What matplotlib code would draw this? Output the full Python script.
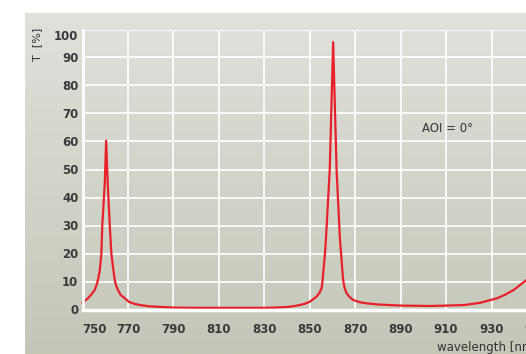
import numpy as np
import matplotlib
matplotlib.use('Agg')
import matplotlib.pyplot as plt

# transmission curve
wavelength = [750, 752.4, 754, 755.4, 756.2, 756.8, 757.6, 758.3, 758.7, 759.8, 760.4,
              761.1, 762.0, 762.7, 763.4, 764.2, 764.8, 765.6, 766.8, 768.6, 770.5,
              773, 776, 780, 785, 790, 800, 810, 820, 830, 835, 840, 843, 845.7,
              848, 850.1, 853.0, 854.3, 855.2, 855.6, 855.9, 856.7, 857.1, 858.8,
              860.3, 861.8, 863.3, 864.0, 864.7, 865.3, 866.2, 867.5, 869.1, 872,
              875, 880, 890, 903, 910, 918, 925, 932.4, 936, 939.8, 945.3, 950]
transmission = [2.4, 4.0, 5.5, 7.0, 8.8, 10.5, 14, 20, 30, 45, 60.3,
                45, 30, 20, 15.3, 10.5, 8.5, 7.0, 5.2, 4.0, 2.7,
                2.0, 1.5, 1.1, 0.9, 0.7, 0.6, 0.6, 0.6, 0.6, 0.7, 0.9, 1.2, 1.6,
                2.1, 2.8, 4.6, 6.0, 7.6, 10, 12.9, 20, 24.8, 50,
                95.5, 50, 24.8, 17.7, 10.5, 7.8, 5.8, 4.5, 3.4, 2.6,
                2.2, 1.8, 1.4, 1.25, 1.4, 1.6, 2.4, 4.0, 5.3, 7.0, 10.5, 14]
x_ticks = [750, 770, 790, 810, 830, 850, 870, 890, 910, 930, 950]
y_ticks = [0, 10, 20, 30, 40, 50, 60, 70, 80, 90, 100]

plt.rcParams['font.family'] = ['Liberation Sans Narrow', 'DejaVu Sans']

W, H = 526, 354
fig = plt.figure(figsize=(W / 100, H / 100), dpi=100)
fig.patch.set_facecolor('white')

# gradient panel behind the chart
bg = fig.add_axes([25 / W, 0, 1 - 25 / W, 1 - 13 / H])
top = np.array([0xe0, 0xe1, 0xdc]) / 255
bot = np.array([0xc3, 0xc7, 0xb7]) / 255
t = np.linspace(0, 1, 256)[:, None]
grad = top * (1 - t) + bot * t
bg.imshow(grad[:, None, :].repeat(2, axis=1), aspect='auto', extent=[0, 1, 0, 1])
bg.set_axis_off()

ax = fig.add_axes([82.5 / W, 44.5 / H, (537 - 82.5) / W, 280 / H])
ax.patch.set_visible(False)
ax.set_xlim(750, 950)
ax.set_ylim(0, 100)
ax.set_xticks(x_ticks)
ax.set_yticks(y_ticks)
ax.grid(True, color='white', linewidth=1.2)
ax.set_axisbelow(True)
for side in ['top', 'right']:
    ax.spines[side].set_visible(False)
ax.spines['left'].set_color('white')
ax.spines['left'].set_linewidth(2)
ax.spines['bottom'].set_color('white')
ax.spines['bottom'].set_linewidth(2.5)
ax.tick_params(length=0, labelsize=8.5, labelcolor='#3a3a3a')
ax.tick_params(axis='x', pad=10)
ax.tick_params(axis='y', pad=3)
for lbl in ax.get_xticklabels() + ax.get_yticklabels():
    lbl.set_fontweight('bold')
ax.get_xticklabels()[0].set_horizontalalignment('left')
ax.get_yticklabels()[-1].set_verticalalignment('top')

ax.plot(wavelength, transmission, color='#e8202a', linewidth=1.6, clip_on=False)

ax.text(910.8, 64.8, 'AOI = 0°', ha='center', va='center', fontsize=8.5, color='#333333')
fig.text(37 / W, 1 - 44.5 / H, 'T  [%]', rotation=90, ha='center', va='center',
         fontsize=8, color='#333333')
fig.text(538 / W, 1 - 348 / H, 'wavelength [nm]', ha='right', va='center',
         fontsize=8.5, color='#333333')

fig.savefig('out.png', dpi=100)
